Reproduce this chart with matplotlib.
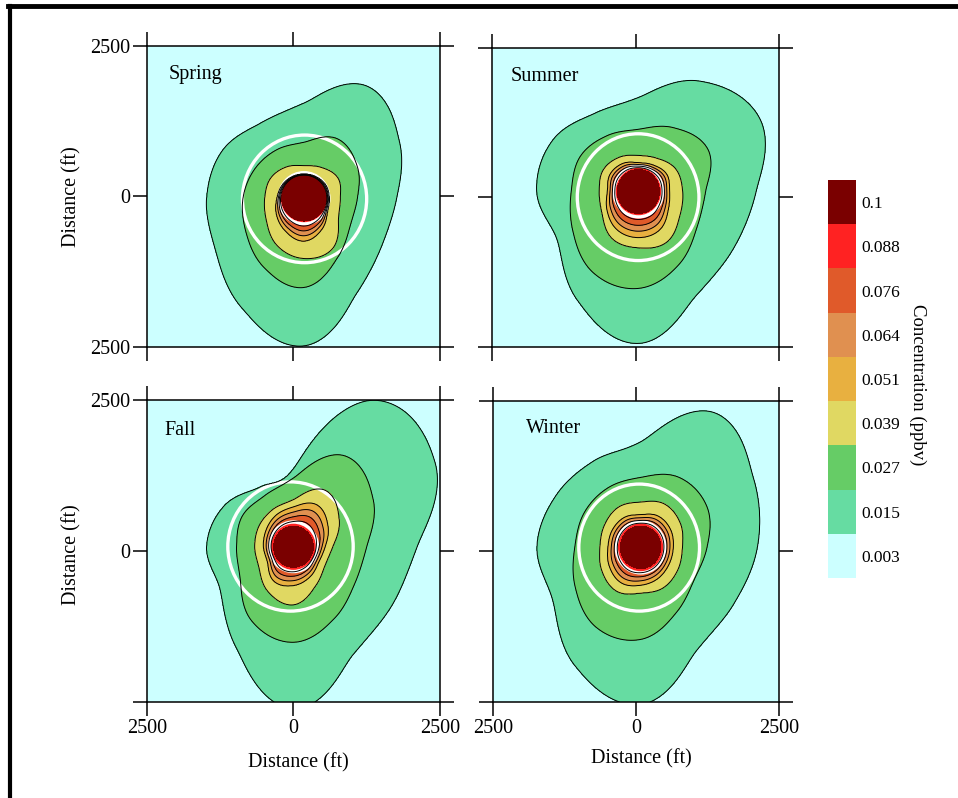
import numpy as np
import matplotlib
matplotlib.use("Agg")
import matplotlib.pyplot as plt
import matplotlib as mpl
from matplotlib.colors import ListedColormap, BoundaryNorm
from matplotlib.lines import Line2D
from matplotlib.patches import Circle

plt.rcParams['font.family'] = ['Liberation Serif', 'DejaVu Serif']

seasons = ["Spring", "Summer", "Fall", "Winter"]

# concentration bands (ppbv) and their colours, lowest first
band_edges = [0.0, 0.015, 0.027, 0.039, 0.051, 0.064, 0.076, 0.088, 0.1, 0.2]
band_labels = ["0.003", "0.015", "0.027", "0.039", "0.051", "0.064", "0.076", "0.088", "0.1"]
band_colors = ["#ccffff", "#66dca2", "#66cc66", "#e0d862", "#e8b040",
               "#e09050", "#e05a2a", "#ff2222", "#7a0000"]

# plume extent: distance (ft) from the source to each isopleth,
# sampled every 30 deg counter-clockwise from east
angles = [0, 30, 60, 90, 120, 150, 180, 210, 240, 270, 300, 330]

src_x = [180, 50, 0, 80]
src_y = [-30, 100, 70, 70]
core_r = [380, 370, 340, 355]   # >= 0.1 ppbv core

r_051 = [[430, 430, 410, 400, 410, 430, 460, 540, 630, 710, 600, 460],
         [540, 570, 510, 480, 540, 570, 540, 630, 740, 770, 740, 600],
         [540, 680, 800, 660, 600, 540, 510, 510, 660, 640, 570, 500],
         [570, 600, 600, 540, 570, 570, 570, 630, 680, 630, 600, 570]]
r_039 = [[620, 670, 590, 540, 600, 660, 670, 740, 910, 1000, 970, 680],
         [770, 750, 640, 600, 660, 710, 680, 730, 910, 940, 980, 830],
         [670, 900, 1080, 780, 710, 680, 660, 680, 860, 960, 750, 620],
         [730, 800, 830, 750, 770, 730, 710, 780, 840, 760, 780, 750]]
r_027 = [[910, 1050, 1140, 930, 930, 970, 1040, 1140, 1340, 1480, 1140, 910],
         [1170, 1400, 1230, 1040, 1080, 1170, 1170, 1320, 1570, 1620, 1410, 1180],
         [1250, 1570, 1740, 1140, 980, 1010, 970, 1050, 1420, 1580, 1380, 1210],
         [1160, 1340, 1340, 1160, 1140, 1140, 1150, 1320, 1540, 1530, 1250, 1080]]
r_015 = [[1580, 1880, 2150, 1580, 1450, 1600, 1660, 1740, 2110, 2450, 1810, 1540],
         [2050, 2440, 2130, 1570, 1510, 1720, 1770, 1630, 2110, 2540, 2010, 1910],
         [2110, 2790, 2800, 1290, 1140, 1360, 1480, 1440, 1940, 2680, 2050, 1940],
         [2040, 2280, 2580, 1750, 1650, 1710, 1810, 1770, 2280, 2610, 1970, 1880]]

# white rings (ft)
ring_x = [190, 45, -50, 55]
ring_y = [-40, 5, 75, 65]
ring_r = [1060, 1060, 1070, 1055]
inner_r = [425, 425, 410, 425]

title_pos = [(0.075, 0.904), (0.066, 0.906), (0.061, 0.900), (0.115, 0.910)]

# axes placement in figure fractions
axes_rects = [[0.1534, 0.5652, 0.3058, 0.3772],
              [0.5136, 0.5652, 0.2996, 0.3747],
              [0.1534, 0.1203, 0.3058, 0.3784],
              [0.5146, 0.1203, 0.2986, 0.3772]]

gx = np.linspace(-2500, 2500, 500)
X, Y = np.meshgrid(gx, gx)


def ring_radius(theta, radii):
    # periodic Catmull-Rom through the sampled radii
    r = np.asarray(radii, dtype=float)
    n = len(r)
    u = theta / (360.0 / n)
    i1 = np.floor(u).astype(int) % n
    t = u - np.floor(u)
    p0, p1 = r[(i1 - 1) % n], r[i1]
    p2, p3 = r[(i1 + 1) % n], r[(i1 + 2) % n]
    return 0.5 * (2 * p1 + (p2 - p0) * t
                  + (2 * p0 - 5 * p1 + 4 * p2 - p3) * t ** 2
                  + (3 * p1 - p0 - 3 * p2 + p3) * t ** 3)


def plume(i):
    dx = X - src_x[i]
    dy = Y - src_y[i]
    r = np.hypot(dx, dy)
    th = np.degrees(np.arctan2(dy, dx)) % 360
    rk = [np.zeros_like(r), np.full_like(r, core_r[i]),
          ring_radius(th, r_051[i]), ring_radius(th, r_039[i]),
          ring_radius(th, r_027[i]), ring_radius(th, r_015[i])]
    rk.append(rk[-1] + 2500)
    vk = [0.12, 0.1, 0.051, 0.039, 0.027, 0.015, 0.0]
    c = np.zeros_like(r)
    for k in range(len(vk) - 1):
        m = (r >= rk[k]) & (r < rk[k + 1])
        t = (r - rk[k]) / (rk[k + 1] - rk[k])
        c[m] = vk[k] + t[m] * (vk[k + 1] - vk[k])
    return c


fig = plt.figure(figsize=(9.58, 7.98), dpi=100)
cmap = ListedColormap(band_colors)

for i, name in enumerate(seasons):
    ax = fig.add_axes(axes_rects[i])
    ax.set_facecolor(band_colors[0])
    C = plume(i)
    ax.contourf(X, Y, C, levels=band_edges, colors=band_colors)
    ax.contour(X, Y, C, levels=band_edges[1:8], colors="k", linewidths=0.7)
    ax.add_patch(Circle((ring_x[i], ring_y[i]), ring_r[i], fill=False, ec="white", lw=2.4))
    ax.add_patch(Circle((src_x[i], src_y[i]), inner_r[i], fill=False, ec="white", lw=2.4))
    ax.text(title_pos[i][0], title_pos[i][1], name, transform=ax.transAxes,
            ha="left", va="center", fontsize=14.5)

    ax.set_xlim(-2500, 2500)
    ax.set_ylim(-2500, 2500)
    ax.set_xticks([-2500, 0, 2500])
    ax.set_yticks([-2500, 0, 2500])
    ax.tick_params(direction="out", length=10, width=1.1, top=True, right=True,
                   labelsize=14.5, pad=2)
    for s in ax.spines.values():
        s.set_linewidth(1.1)

    if i % 2 == 0:
        if i == 0:
            ax.set_yticklabels(["2500", "0", "2500"])
        else:
            ax.set_yticklabels(["", "0", "2500"])
    else:
        ax.tick_params(labelleft=False)
    if i >= 2:
        ax.set_xticklabels(["2500", "0", "2500"])
    else:
        ax.tick_params(labelbottom=False)

fig.text(0.075, 0.753, "Distance (ft)", rotation=90, ha="center", va="center", fontsize=14.5)
fig.text(0.075, 0.305, "Distance (ft)", rotation=90, ha="center", va="center", fontsize=14.5)
fig.text(0.311, 0.044, "Distance (ft)", ha="center", va="center", fontsize=14.5)
fig.text(0.669, 0.049, "Distance (ft)", ha="center", va="center", fontsize=14.5)

# colour key
cax = fig.add_axes([0.8643, 0.2757, 0.0292, 0.4987])
key_norm = BoundaryNorm(np.arange(10), cmap.N)
cb = mpl.colorbar.ColorbarBase(cax, cmap=cmap, norm=key_norm, orientation="vertical")
cb.set_ticks(np.arange(9) + 0.5)
cb.set_ticklabels(band_labels)
cb.outline.set_visible(False)
cax.minorticks_off()
cax.tick_params(which="both", length=0, labelsize=12.5, pad=4)
fig.text(0.958, 0.5175, "Concentration (ppbv)", rotation=270, ha="center", va="center",
         fontsize=13.5)

# frame
fig.add_artist(Line2D([8 / 958, 1], [1 - 6 / 798] * 2, transform=fig.transFigure,
                      color="k", lw=3.5))
fig.add_artist(Line2D([10 / 958] * 2, [0, 1 - 6 / 798], transform=fig.transFigure,
                      color="k", lw=3))

fig.savefig("out.png", dpi=100)
